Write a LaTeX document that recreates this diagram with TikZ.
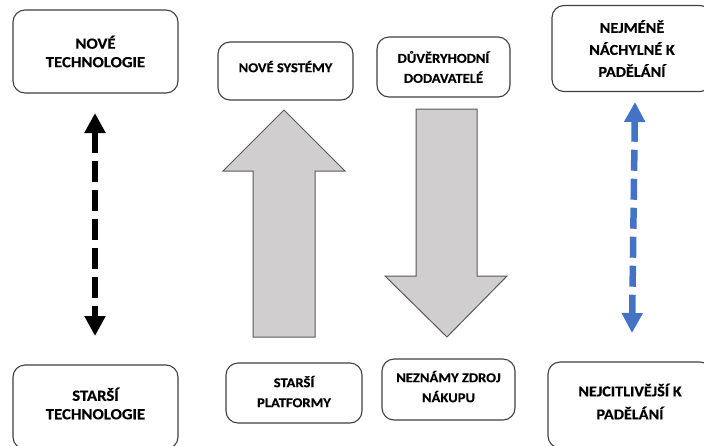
\documentclass[tikz,border=0pt]{standalone}
\usepackage{fontspec}
\setmainfont{Carlito}
\newfontfamily\boxfont[FakeStretch=1.08, BoldFeatures={FakeBold=0.35}]{Carlito}
\usetikzlibrary{arrows.meta}
\definecolor{boxline}{HTML}{404040}
\definecolor{arrfill}{HTML}{D0CECE}
\definecolor{arrline}{HTML}{595959}
\definecolor{blueline}{HTML}{4472C4}
\begin{document}
\begin{tikzpicture}[x=1pt,y=-1pt,
  card/.style={draw=boxline, line width=1.1pt, rounded corners=12pt, fill=white,
    align=center, inner sep=0pt},
  bigtxt/.style={font=\boxfont\bfseries\fontsize{15.5}{18.5}\selectfont},
  midtxt/.style={font=\boxfont\bfseries\fontsize{15}{22}\selectfont},
  lowtxt/.style={font=\boxfont\bfseries\fontsize{15}{23}\selectfont},
  smalltxt/.style={font=\boxfont\bfseries\fontsize{13.5}{20}\selectfont},
  bigarrow/.style={draw=arrline, line width=1pt, fill=arrfill, line join=miter},
  dasharrow/.style={line width=6.5pt, dash pattern=on 21pt off 8pt,
    {Triangle[width=20pt,length=20pt]}-{Triangle[width=20pt,length=20pt]}}
]
\useasboundingbox (0,0) rectangle (704,445);
\clip (0,0) rectangle (704,445);

% top row
\node[card, bigtxt, minimum width=165pt, minimum height=83pt] (b1) at (95.5,51.5) {NOVÉ\\TECHNOLOGIE};
\node[card, smalltxt, minimum width=135pt, minimum height=58pt, text depth=9pt] (b2) at (285.5,71) {NOVÉ SYSTÉMY};
\node[card, smalltxt, minimum width=133pt, minimum height=60pt] (b3) at (443.5,67) {DŮVĚRYHODNÍ\\DODAVATELÉ};
\node[card, midtxt, minimum width=160pt, minimum height=86pt] (b4) at (632,48.5) {NEJMÉNĚ\\NÁCHYLNÉ K\\PADĚLÁNÍ};

% bottom row
\node[card, bigtxt, minimum width=165pt, minimum height=84pt, text depth=7pt] (b5) at (95.5,407) {STARŠÍ\\TECHNOLOGIE};
\node[card, smalltxt, minimum width=136pt, minimum height=60pt, text depth=3pt] (b6) at (294,393) {STARŠÍ\\PLATFORMY};
\node[card, smalltxt, minimum width=133pt, minimum height=61pt, text depth=6pt] (b7) at (448.5,389.5) {NEZNÁMY ZDROJ\\NÁKUPU};
\node[card, lowtxt, minimum width=164pt, minimum height=86pt, text depth=7pt] (b8) at (630,405) {NEJCITLIVĚJŠÍ K\\PADĚLÁNÍ};

% black dashed double arrow
\coordinate (k1) at (95,113);
\coordinate (k2) at (95,336);
\draw[dasharrow, black] (k1) -- (k2);

% blue dashed double arrow
\coordinate (u1) at (635,102);
\coordinate (u2) at (632,333);
\draw[dasharrow, blueline] (u1) -- (u2);

% gray up arrow
\draw[bigarrow] (284,110) -- (345,171) -- (315,171) -- (315,337) -- (253,337) -- (253,171) -- (223,171) -- cycle;

% gray down arrow
\draw[bigarrow] (416,109) -- (477,109) -- (477,276) -- (507,276) -- (447,337) -- (385,276) -- (416,276) -- cycle;
\end{tikzpicture}
\end{document}
